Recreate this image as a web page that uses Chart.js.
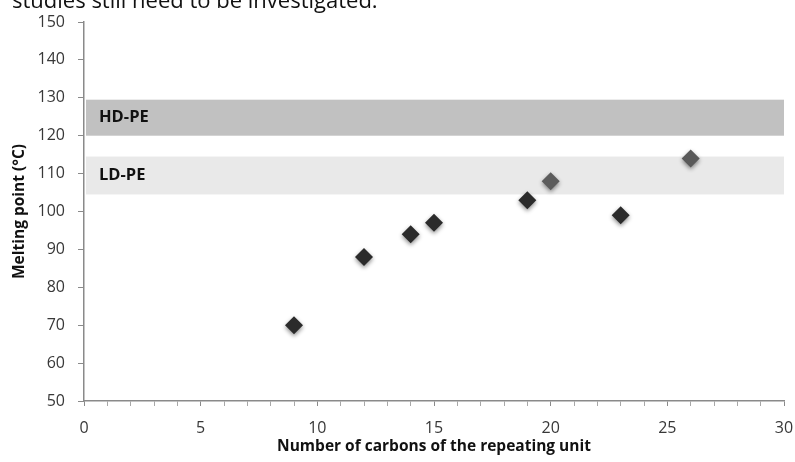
<!DOCTYPE html>
<html>
<head>
<meta charset="utf-8">
<script src="https://cdn.jsdelivr.net/npm/chart.js@4.4.1/dist/chart.umd.min.js"></script>
<style>
  html, body { margin: 0; padding: 0; background: #fff; overflow: hidden; }
  #wrap { position: relative; width: 795px; height: 462px; }
  #caption { position: absolute; left: 12px; top: -16px; font: 22px "Open Sans", sans-serif; color: #111; white-space: nowrap; }
  canvas { position: absolute; left: 0; top: 0; }
</style>
</head>
<body>
<div id="wrap">
  <canvas id="myChart" width="795" height="462"></canvas>
  <div id="caption">studies still need to be investigated.</div>
</div>
<script>
// datos
var carbons = [9, 12, 14, 15, 19, 20, 23, 26];
var meltingPoints = [70, 88, 94, 97, 103, 108, 99, 114];
// los puntos 20 y 26 salen un poco mas claros en el original
var pointColors = ['#2b2b2b', '#2b2b2b', '#2b2b2b', '#2b2b2b', '#2b2b2b', '#5c5c5c', '#2b2b2b', '#5a5a5a'];

// bandas de polietileno (rango de fusion)
var bandLabels = ['HD-PE', 'LD-PE'];
var bandLow = [120, 104.5];
var bandHigh = [129.5, 114.5];
var bandColors = ['#c1c1c1', '#e9e9e9'];

var xTicks = [0, 5, 10, 15, 20, 25, 30];
var yTicks = [50, 60, 70, 80, 90, 100, 110, 120, 130, 140, 150];

var font = '"Open Sans", sans-serif';

// dibuja las bandas usando las escalas del grafico
var bandsPlugin = {
    id: 'bands',
    beforeDatasetsDraw: function(chart) {
        var c = chart.ctx, xs = chart.scales.x, ys = chart.scales.y;
        var left = xs.getPixelForValue(0) + 2, right = chart.chartArea.right;
        c.save();
        for (var i = 0; i < bandLabels.length; i++) {
            var top = ys.getPixelForValue(bandHigh[i]);
            var bottom = ys.getPixelForValue(bandLow[i]);
            c.fillStyle = bandColors[i];
            c.fillRect(left, top, right - left, bottom - top);
            c.fillStyle = '#111';
            c.font = 'bold 16.5px ' + font;
            c.textBaseline = 'middle';
            c.fillText(bandLabels[i], left + 13, (top + bottom) / 2);
        }
        c.restore();
    },
    // sombra de los rombos
    beforeDatasetDraw: function(chart) {
        var c = chart.ctx;
        c.save();
        c.shadowColor = 'rgba(0,0,0,0.45)';
        c.shadowBlur = 4;
        c.shadowOffsetY = 2;
    },
    afterDatasetDraw: function(chart) {
        chart.ctx.restore();
    }
};

var ctx = document.getElementById('myChart').getContext('2d');
var chart = new Chart(ctx, {
    type: 'scatter',
    data: {
        datasets: [{
            label: 'Melting point',
            data: carbons.map(function(x, i) { return {x: x, y: meltingPoints[i]}; }),
            pointStyle: 'rectRot',
            pointRadius: 9,
            pointHoverRadius: 9,
            pointBackgroundColor: pointColors,
            pointBorderColor: pointColors,
            pointBorderWidth: 0
        }]
    },
    options: {
        responsive: false,
        animation: false,
        events: [],
        layout: { padding: { top: 22, right: 11, left: 0, bottom: 0 } },
        plugins: { legend: { display: false }, tooltip: { enabled: false } },
        scales: {
            x: {
                type: 'linear',
                min: 0,
                max: 30,
                afterBuildTicks: function(s) {
                    var t = [];
                    for (var v = 0; v <= 30; v++) t.push({value: v});
                    s.ticks = t;
                },
                afterFit: function(s) { s.height = 61; s.paddingLeft = 0; s.paddingRight = 0; },
                ticks: {
                    autoSkip: false,
                    maxRotation: 0,
                    padding: 13,
                    color: '#383838',
                    font: { family: font, size: 16 },
                    callback: function(v) { return xTicks.indexOf(v) >= 0 ? String(v) : ''; }
                },
                grid: {
                    drawOnChartArea: false,
                    tickLength: 5,
                    tickColor: function(c) { return xTicks.indexOf(c.tick.value) >= 0 ? '#8a8a8a' : '#a8a8a8'; }
                },
                border: { color: '#8a8a8a', width: 1.5 },
                title: {
                    display: true,
                    text: 'Number of carbons of the repeating unit',
                    color: '#111',
                    font: { family: font, size: 15.5, weight: 'bold' },
                    padding: { top: 0, bottom: 6 }
                }
            },
            y: {
                min: 50,
                max: 150,
                afterBuildTicks: function(s) { s.ticks = yTicks.map(function(v) { return {value: v}; }); },
                afterFit: function(s) { s.width = 84; s.paddingTop = 0; s.paddingBottom = 0; },
                ticks: {
                    padding: 13,
                    color: '#383838',
                    font: { family: font, size: 16 }
                },
                grid: { drawOnChartArea: false, tickLength: 6, tickColor: '#8a8a8a' },
                border: { color: '#8a8a8a', width: 1.5 },
                title: {
                    display: true,
                    text: 'Melting point (°C)',
                    color: '#111',
                    font: { family: font, size: 15.5, weight: 'bold' },
                    padding: { top: 10, bottom: 0 }
                }
            }
        }
    },
    plugins: [bandsPlugin]
});
</script>
</body>
</html>
